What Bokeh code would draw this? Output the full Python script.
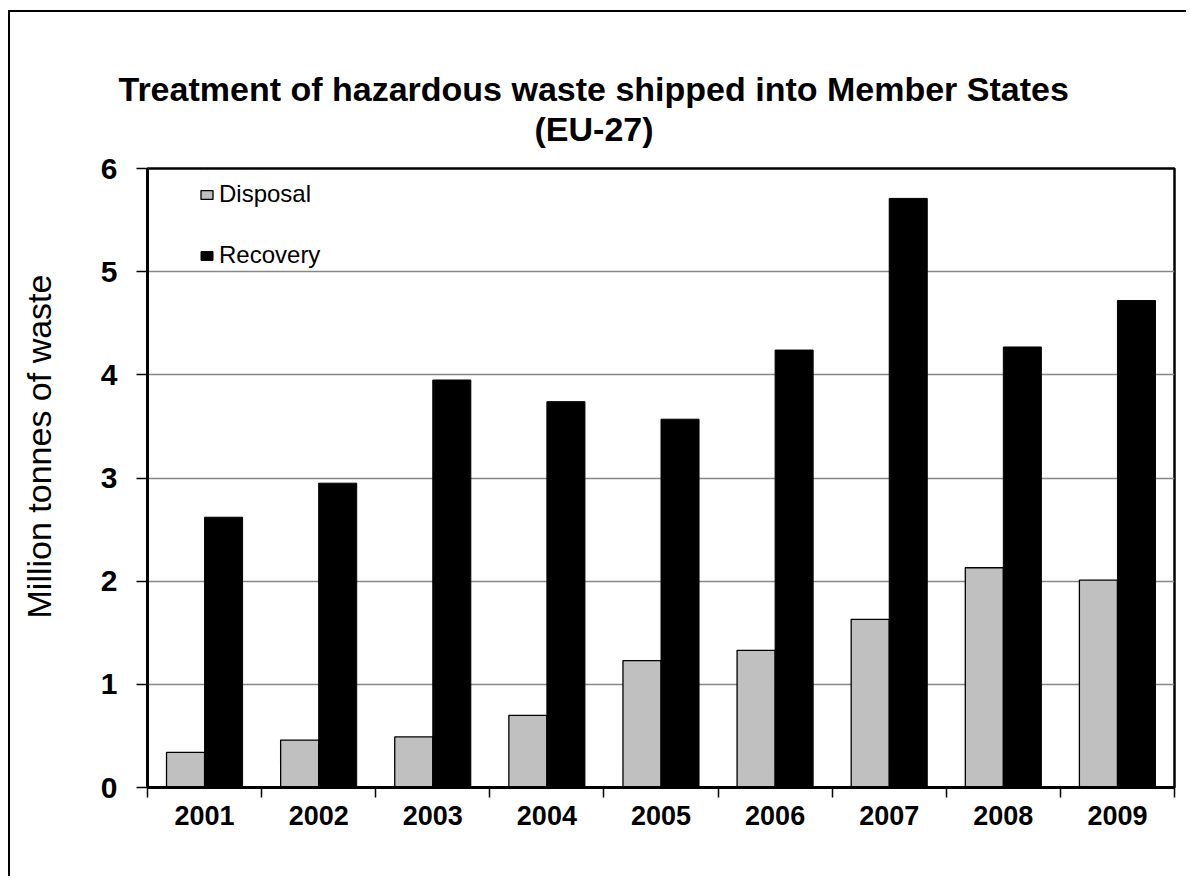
from bokeh.plotting import figure
from bokeh.models import Range1d, FixedTicker, Title, LinearAxis, ColumnDataSource
from bokeh.transform import dodge
from bokeh.embed import file_html
from bokeh.resources import INLINE

# ---- data ----
years = ["2001", "2002", "2003", "2004", "2005", "2006", "2007", "2008", "2009"]
disposal = [0.34, 0.46, 0.49, 0.70, 1.23, 1.33, 1.63, 2.13, 2.01]
recovery = [2.62, 2.95, 3.95, 3.74, 3.57, 4.24, 5.71, 4.27, 4.72]
y_ticks = [0, 1, 2, 3, 4, 5, 6]
title_lines = ["Treatment of hazardous waste shipped into Member States", "(EU-27)"]
y_label = "Million tonnes of waste"

FONT = "Liberation Sans"
W, H = 1178, 866

p = figure(width=W, height=H, output_backend="svg", toolbar_location=None,
           x_range=Range1d(0, len(years)), y_range=Range1d(y_ticks[0], y_ticks[-1]),
           min_border_left=137, min_border_right=14, min_border_top=156, min_border_bottom=91,
           margin=(10, 0, 0, 8),
           styles={"border-left": "2px solid black", "border-top": "2px solid black"})
p.title.visible = False
p.background_fill_color = "white"
p.border_fill_color = "white"
p.outline_line_color = "black"
p.outline_line_width = 2.5

pos = [i + 0.5 for i in range(len(years))]
src = ColumnDataSource(dict(pos=pos, disposal=disposal, recovery=recovery, year=years))
p.vbar(x=dodge("pos", -1/6, range=p.x_range), top="disposal", width=1/3, source=src,
       fill_color="#C0C0C0", line_color="black", line_width=1.3, legend_label="Disposal")
p.vbar(x=dodge("pos", 1/6, range=p.x_range), top="recovery", width=1/3, source=src,
       fill_color="black", line_color="black", line_width=1, legend_label="Recovery")

# grid
p.xgrid.visible = False
p.ygrid.grid_line_color = "#878787"
p.ygrid.grid_line_width = 1.5

# x axis: labels at centres, ticks at category boundaries
xa = p.xaxis[0]
xa.ticker = FixedTicker(ticks=pos, minor_ticks=list(range(len(years) + 1)))
xa.major_label_overrides = {pos[i]: years[i] for i in range(len(years))}
xa.major_tick_line_color = None
xa.major_tick_out = 9
xa.major_tick_in = 0
xa.minor_tick_line_color = "black"
xa.minor_tick_line_width = 1.5
xa.minor_tick_out = 10
xa.minor_tick_in = 0
xa.axis_line_width = 3
xa.axis_line_color = "black"
xa.major_label_text_font = FONT
xa.major_label_text_font_style = "bold"
xa.major_label_text_font_size = "27px"
xa.major_label_text_color = "black"
xa.major_label_standoff = 8

ya = p.yaxis[0]
ya.ticker = FixedTicker(ticks=y_ticks, minor_ticks=[])
ya.major_tick_out = 11
ya.major_tick_in = 0
ya.major_tick_line_width = 1.5
ya.major_tick_line_color = "black"
ya.axis_line_width = 3
ya.axis_line_color = "black"
ya.major_label_text_font = FONT
ya.major_label_text_font_style = "bold"
ya.major_label_text_font_size = "30px"
ya.major_label_text_color = "black"
ya.major_label_standoff = 19


def spacer_axis(size, at):
    # an axis whose single tick is white, hair-thin and unlabelled: it only reserves room
    return LinearAxis(ticker=FixedTicker(ticks=[at], minor_ticks=[]), axis_line_color=None,
                      major_tick_line_color="white", major_tick_line_width=0.1,
                      minor_tick_line_color=None,
                      major_tick_out=size, major_tick_in=0, major_label_standoff=0,
                      major_label_overrides={at: ""}, major_label_text_color=None)


# y axis title, placed beyond a blank spacer
p.add_layout(spacer_axis(40, y_ticks[3]), "left")
p.add_layout(Title(text=y_label, align="left", offset=169, standoff=0,
                   vertical_align="bottom",
                   text_font=FONT, text_font_style="normal", text_font_size="34px",
                   text_color="black"), "left")

# chart title (two lines), second line closest to the frame
p.add_layout(spacer_axis(21, pos[0]), "above")
p.add_layout(Title(text=title_lines[1], align="left", offset=387, standoff=0,
                   text_line_height=0.85,
                   text_font=FONT, text_font_style="bold", text_font_size="34px",
                   text_color="black"), "above")
p.add_layout(Title(text=title_lines[0], align="left", offset=-29, standoff=0,
                   text_font=FONT, text_font_style="bold", text_font_size="34px",
                   text_color="black"), "above")

# legend
leg = p.legend[0]
leg.location = (52, 517)
leg.padding = 0
leg.margin = 0
leg.spacing = 31
leg.glyph_width = 15
leg.glyph_height = 11
leg.label_height = 30
leg.label_standoff = 5
leg.label_text_font = FONT
leg.label_text_font_size = "24px"
leg.label_text_color = "black"
leg.border_line_color = None
leg.background_fill_alpha = 0

open("out.html", "w").write(file_html(p, INLINE))
